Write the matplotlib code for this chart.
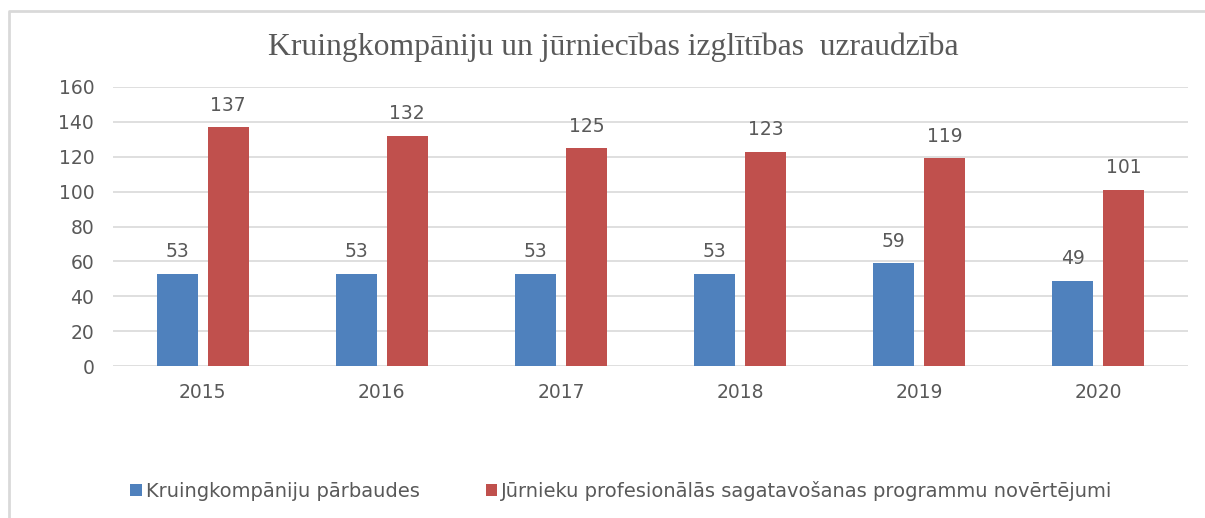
import matplotlib
matplotlib.use("Agg")
import matplotlib.pyplot as plt
import numpy as np
from matplotlib.patches import Patch
from matplotlib.lines import Line2D

years = ["2015", "2016", "2017", "2018", "2019", "2020"]
inspections = [53, 53, 53, 53, 59, 49]
evaluations = [137, 132, 125, 123, 119, 101]
series_names = ["Kruingkompāniju pārbaudes",
                "Jūrnieku profesionālās sagatavošanas programmu novērtējumi"]
title = "Kruingkompāniju un jūrniecības izglītības  uzraudzība"
yticks = [0, 20, 40, 60, 80, 100, 120, 140, 160]

blue = "#4F81BD"
red = "#C0504D"
txt = "#595959"
grid = "#D9D9D9"

plt.rcParams['font.family'] = ['DejaVu Sans']

W, H = 1205, 518
fig = plt.figure(figsize=(W / 100, H / 100), dpi=100)
fig.patch.set_facecolor("white")

ax = fig.add_axes([113 / W, 1 - 366 / H, (1188 - 113) / W, (366 - 87) / H])
x = np.arange(len(years))
bw = 0.229
off = 0.142
b1 = ax.bar(x - off, inspections, bw, color=blue, zorder=3)
b2 = ax.bar(x + off, evaluations, bw, color=red, zorder=3)

for bars, vals in ((b1, inspections), (b2, evaluations)):
    for r, v in zip(bars, vals):
        ax.annotate(str(v), (r.get_x() + r.get_width() / 2, v),
                    xytext=(0, 9), textcoords="offset points",
                    ha="center", va="bottom", fontsize=13.5, color=txt)

ax.set_xlim(-0.5, len(years) - 0.5)
ax.set_ylim(0, 160)
ax.set_yticks(yticks)
ax.set_xticks(x)
ax.set_xticklabels(years)
ax.tick_params(axis="both", length=0, labelsize=13.5, colors=txt)
ax.tick_params(axis="y", pad=13.5)
ax.tick_params(axis="x", pad=12)
ax.yaxis.grid(True, color=grid, linewidth=1.2, zorder=0)
for s in ax.spines.values():
    s.set_visible(False)

fig.text(613 / W, 1 - 47 / H, title, ha="center", va="center",
         fontsize=22.8, color=txt, family=["Liberation Serif", "DejaVu Serif"])

handles = [Patch(facecolor=blue), Patch(facecolor=red)]
fig.legend(handles, series_names, loc="center left",
           bbox_to_anchor=(130 / W, 1 - 491 / H), ncol=2, frameon=False,
           fontsize=14, labelcolor=txt, handlelength=0.6, handleheight=0.6,
           handletextpad=0.2, columnspacing=3.4, borderaxespad=0,
           borderpad=0)

# chart frame (left and top edges visible)
fig.add_artist(Line2D([9 / W, 9 / W, 1.0], [0.0, 1 - 11 / H, 1 - 11 / H],
                      transform=fig.transFigure, color="#D9D9D9", linewidth=2))

fig.savefig("out.png", dpi=100, facecolor="white")
